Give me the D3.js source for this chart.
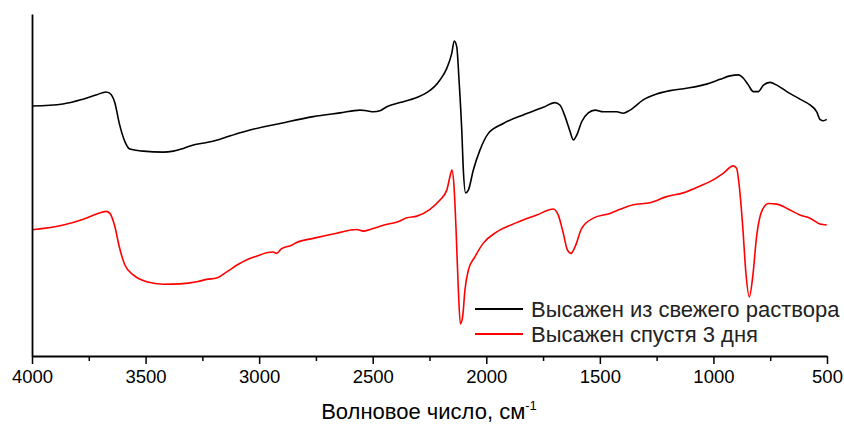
<!DOCTYPE html>
<html><head><meta charset="utf-8">
<script src="https://cdn.jsdelivr.net/npm/d3@7/dist/d3.min.js"></script>
<style>
html,body{margin:0;padding:0;background:#fff;}
svg{display:block;font-family:"Liberation Sans",Arial,sans-serif;}
</style></head>
<body><svg id="c" width="844" height="426"></svg>
<script>
// Wavenumbers (cm^-1) and transmittance (arb. units)
const freshWn = [4000,3864,3776,3715,3674,3657,3635,3616,3591,3569,3510,3422,3378,3334,3290,3231,3172,3084,3040,2908,2762,2644,2556,2527,2497,2468,2438,2380,2306,2262,2226,2204,2174,2152,2141,2130,2120,2108,2101,2091,2079,2057,2028,1991,1925,1837,1749,1698,1676,1653,1631,1617,1602,1580,1551,1521,1485,1426,1397,1367,1309,1250,1191,1118,1030,971,927,890,868,846,824,802,780,751,721,677,619,575,545,531,516,501];
const freshT = [73.1,73.7,75.1,76.4,77.2,76.8,74.0,68.1,62.7,60.5,59.9,59.6,59.9,60.7,61.7,62.4,63.4,65.3,66.1,68.0,70.0,71.1,71.9,71.7,71.4,71.7,72.9,74.1,75.6,77.0,78.9,80.7,84.1,88.5,92.1,90.4,80.7,66.1,54.4,47.7,48.5,54.4,60.2,65.1,68.0,70.5,72.7,74.1,73.4,70.0,65.6,63.2,64.6,68.5,71.1,71.9,71.4,71.4,71.0,71.9,74.9,76.6,77.6,78.3,79.5,80.9,81.9,82.2,81.2,79.2,77.3,77.3,79.2,80.0,79.2,77.3,75.1,73.4,71.4,69.2,68.8,69.2];
const agedWn = [4000,3862,3774,3715,3674,3657,3635,3616,3591,3554,3495,3422,3348,3275,3231,3187,3143,3084,3070,3011,2967,2938,2923,2901,2857,2835,2762,2659,2571,2541,2512,2453,2380,2350,2306,2248,2204,2174,2160,2151,2142,2133,2123,2114,2104,2094,2079,2050,2013,1954,1866,1778,1705,1683,1661,1643,1627,1609,1580,1529,1455,1411,1353,1279,1206,1133,1059,1001,957,913,898,886,871,857,842,827,810,788,758,721,663,619,575,531,501];
const agedT = [36.9,38.3,40.0,41.5,42.3,41.7,37.8,32.0,26.6,23.7,21.7,21.0,21.1,21.7,22.4,22.8,24.6,27.1,27.6,29.2,30.2,30.4,30.0,31.4,32.4,33.2,34.4,35.9,37.0,36.5,37.0,38.2,39.5,40.4,40.9,42.9,45.6,48.5,52.4,54.4,49.5,36.8,19.3,9.4,11.5,19.3,25.1,29.0,33.0,36.3,39.0,41.2,43.0,41.2,35.9,31.0,30.0,32.0,37.3,40.3,41.7,42.9,44.2,44.8,46.6,47.7,49.7,51.5,53.4,55.6,54.9,49.5,37.8,24.2,17.3,23.2,34.9,42.2,44.6,44.4,42.7,41.2,40.3,38.6,38.3];
const xTicks = [4000,3500,3000,2500,2000,1500,1000,500];
const xMinorTicks = [3750,3250,2750,2250,1750,1250,750];
const seriesNames = ["Высажен из свежего раствора","Высажен спустя 3 дня"];
const seriesColors = ["#000000","#ff0000"];
const xTitle = "Волновое число, см";
const xTitleSup = "-1";

const svg = d3.select("#c");
const x = d3.scaleLinear().domain([4000,500]).range([32,827]);
const y = d3.scaleLinear().domain([0,100]).range([356,14]);

const series = [
  freshWn.map((w,i)=>({w, t: freshT[i]})),
  agedWn.map((w,i)=>({w, t: agedT[i]}))
];
const line = d3.line().x(d=>x(d.w)).y(d=>y(d.t)).curve(d3.curveMonotoneX);

series.forEach((s,i)=>{
  svg.append("path").datum(s).attr("d",line)
    .attr("fill","none").attr("stroke",seriesColors[i]).attr("stroke-width",1.6)
    .attr("stroke-linejoin","round");
});

// minor ticks
const gMinor = svg.append("g").attr("transform","translate(0,356)")
  .call(d3.axisBottom(x).tickValues(xMinorTicks).tickSize(5).tickFormat("").tickSizeOuter(0));
gMinor.select(".domain").remove();
gMinor.selectAll("line").attr("stroke","#000").attr("stroke-width",1.5);

const gx = svg.append("g").attr("transform","translate(0,356)")
  .call(d3.axisBottom(x).tickValues(xTicks).tickSize(8).tickSizeOuter(0).tickPadding(6).tickFormat(d3.format("d")));
gx.select(".domain").attr("stroke","#000").attr("stroke-width",1.8);
gx.selectAll(".tick line").attr("stroke","#000").attr("stroke-width",1.5);
gx.selectAll(".tick text").attr("fill","#000").style("font-size","18.5px").attr("font-family","Liberation Sans, Arial, sans-serif");

const gy = svg.append("g").attr("transform","translate(32,0)")
  .call(d3.axisLeft(y).tickValues([]).tickSizeOuter(0));
gy.select(".domain").attr("stroke","#000").attr("stroke-width",1.8);

// axis title
const tt = svg.append("text").attr("x",429).attr("y",419).attr("text-anchor","middle")
  .attr("fill","#000").style("font-size","22px");
tt.append("tspan").text(xTitle);
tt.append("tspan").text(xTitleSup).attr("dy",-9).style("font-size","13px");

// legend
const leg = svg.append("g");
seriesNames.forEach((n,i)=>{
  const yy = 309 + i*25;
  leg.append("line").attr("x1",475).attr("x2",523).attr("y1",yy).attr("y2",yy)
    .attr("stroke",seriesColors[i]).attr("stroke-width",1.8);
  leg.append("text").attr("x",531).attr("y",yy+8).text(n)
    .attr("fill","#222").style("font-size","22px");
});
</script></body></html>
